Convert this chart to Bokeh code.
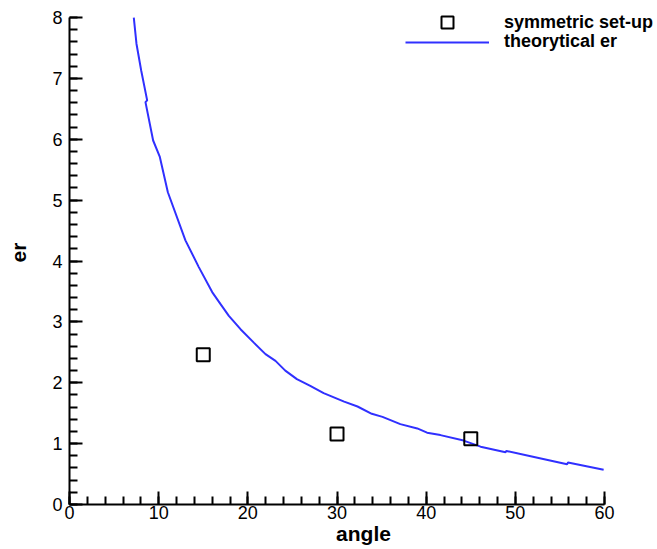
import math
from bokeh.plotting import figure
from bokeh.models import Range1d, SingleIntervalTicker, Legend, LegendItem
from bokeh.embed import file_html
from bokeh.resources import INLINE

# measured data
sym_angle = [15, 30, 45]
sym_er = [2.46, 1.16, 1.08]

theo_angle = [7.21, 7.51, 8.04, 8.71, 8.52, 9.38, 10.13, 11.03, 13.0, 14.5, 16.0, 16.9,
              17.87, 19.18, 20.67, 21.98, 23.1, 24.2, 25.5, 27.0, 28.5, 30.8, 32.3, 33.9,
              35.1, 37.1, 39.0, 40.1, 41.6, 44.2, 46.1, 48.9, 49.0, 52.1, 55.8, 55.9, 59.9]
theo_er = [8.0, 7.57, 7.13, 6.64, 6.61, 5.98, 5.71, 5.13, 4.34, 3.90, 3.49, 3.30,
           3.10, 2.88, 2.66, 2.47, 2.36, 2.20, 2.06, 1.95, 1.83, 1.69, 1.61, 1.49,
           1.44, 1.32, 1.25, 1.18, 1.14, 1.05, 0.95, 0.86, 0.88, 0.78, 0.66, 0.69, 0.57]

x_label = "angle"
y_label = "er"
sym_name = "symmetric set-up"
theo_name = "theorytical er"
x_bounds = (0, 60)
y_bounds = (0, 8)

FONT = "Liberation Sans"

# the frame extends past the axes' ends so that the legend is not clipped
p = figure(width=657, height=549, output_backend="svg", toolbar_location=None,
           x_range=Range1d(0, 65.94), y_range=Range1d(0, 8.28),
           min_border=0, min_border_left=69, min_border_right=0, min_border_top=0,
           min_border_bottom=45)
p.title = None
p.outline_line_color = None
p.xgrid.visible = False
p.ygrid.visible = False
p.background_fill_color = "white"
p.border_fill_color = "white"

p.xaxis.ticker = SingleIntervalTicker(interval=10, num_minor_ticks=5)
p.yaxis.ticker = SingleIntervalTicker(interval=1, num_minor_ticks=5)
p.xaxis.bounds = x_bounds
p.yaxis.bounds = y_bounds
for ax in (p.xaxis, p.yaxis):
    ax.axis_line_width = 2
    ax.axis_line_color = "black"
    ax.major_tick_line_width = 2
    ax.minor_tick_line_width = 2
    ax.major_tick_line_color = "black"
    ax.minor_tick_line_color = "black"
    ax.major_tick_in = 13
    ax.major_tick_out = 0
    ax.minor_tick_in = 8
    ax.minor_tick_out = 0
    ax.major_label_text_font = FONT
    ax.major_label_text_font_size = "18px"
    ax.major_label_text_color = "black"
    ax.axis_label_text_font = FONT
    ax.axis_label_text_font_style = "bold"
    ax.axis_label_text_font_size = "21px"
    ax.axis_label_text_color = "black"
p.xaxis.axis_label = x_label
p.yaxis.axis_label = y_label
p.xaxis.major_label_standoff = 1
p.xaxis.axis_label_standoff = 0
p.yaxis.major_label_standoff = 7
p.yaxis.axis_label_standoff = 19

line = p.line(theo_angle, theo_er, line_color="#3030ff", line_width=2)
sq = p.scatter(sym_angle, sym_er, marker="square", size=13, fill_color=None,
               line_color="black", line_width=2)

common = dict(label_standoff=15, padding=0, margin=0, spacing=0, border_line_color=None,
              background_fill_alpha=0, label_text_font=FONT, label_text_font_style="bold",
              label_text_font_size="18px", label_text_color="black", glyph_width=84)
leg1 = Legend(items=[LegendItem(label=sym_name, renderers=[sq])], location=(336, 467),
              glyph_height=30, label_height=30, **common)
leg2 = Legend(items=[LegendItem(label=theo_name, renderers=[line])], location=(336, 452),
              glyph_height=20, label_height=20, **common)
p.add_layout(leg1)
p.add_layout(leg2)

open("out.html", "w").write(file_html(p, INLINE))
